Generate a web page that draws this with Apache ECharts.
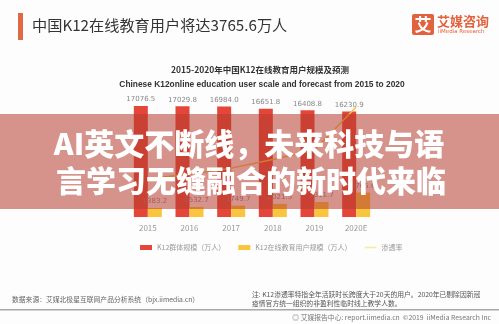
<!DOCTYPE html>
<html>
<head>
<meta charset="utf-8">
<script src="https://cdn.jsdelivr.net/npm/echarts@6/dist/echarts.min.js"></script>
<style>
html,body{margin:0;padding:0;background:#fdfdfd;}
#c{width:499px;height:324px;}
</style>
</head>
<body>
<div id="c"></div>
<script>
const years = ['2015','2016','2017','2018','2019','2020E'];
const k12Total = [17076.5, 17029.8, 16984.0, 16651.8, 16408.8, 16230.9];
const k12Online = [1383.2, 1532.7, 1749.7, 2021.5, 2311.7, 3765.6];
const penetration = [8.1, 9.0, 10.3, 12.1, 14.1, 23.2];
const seriesNames = ['K12群体规模（万人）', 'K12在线教育用户规模（万人）', '渗透率'];

const chart = echarts.init(document.getElementById('c'), null, {renderer:'canvas'});
const cjk = '"Noto Sans CJK SC", "Noto Sans", sans-serif';

chart.setOption({
  backgroundColor: '#fdfdfd',
  animation: false,
  textStyle: {fontFamily: cjk},
  grid: {left: 127, right: 122, top: 87, bottom: 107},
  xAxis: {
    type: 'category', data: years,
    axisLine: {show: false}, axisTick: {show: false},
    axisLabel: {color: '#999', fontSize: 8, margin: 7, fontFamily: cjk}
  },
  yAxis: [
    {type: 'value', min: 0, max: 20000, show: false, splitLine: {show: false}},
    {type: 'value', min: 0, max: 27.4, show: false, splitLine: {show: false}}
  ],
  legend: {
    left: 135, top: 239, itemWidth: 12, itemHeight: 5, itemGap: 13,
    textStyle: {color: '#999', fontSize: 7, fontFamily: cjk},
    data: [
      {name: seriesNames[0], icon: 'rect'},
      {name: seriesNames[1], icon: 'rect'},
      {name: seriesNames[2], icon: 'path://M0,0L12,0L12,1.5L0,1.5Z', itemStyle: {color: '#f3ee9a'}}
    ]
  },
  series: [
    {
      name: seriesNames[0], type: 'bar', data: k12Total, barWidth: 14, barGap: '0%',
      itemStyle: {color: '#e4473a'},
      label: {show: true, position: 'top', distance: 3, color: '#888', fontSize: 7, fontFamily: 'DejaVu Sans', formatter: p => p.value.toFixed(1)}
    },
    {
      name: seriesNames[1], type: 'bar', data: k12Online, barWidth: 14,
      itemStyle: {color: '#f9c53e'},
      label: {show: true, position: 'top', distance: 3, color: '#888', fontSize: 7, fontFamily: 'DejaVu Sans', formatter: p => p.value.toFixed(1)}
    },
    {
      name: seriesNames[2], type: 'line', yAxisIndex: 1, data: penetration,
      symbol: 'none', lineStyle: {color: '#f4c542', width: 1.5}, itemStyle: {color: '#f4c542'},
      z: 5,
      label: {show: true, position: 'right', distance: 3, color: '#888', fontSize: 7, fontFamily: 'DejaVu Sans', formatter: p => p.value.toFixed(1) + '%'}
    }
  ],
  graphic: [
    {type: 'rect', shape: {x: 18, y: 13, width: 5, height: 27}, style: {fill: '#e06a45'}},
    {type: 'text', x: 32, y: 25, style: {text: '中国K12在线教育用户将达3765.6万人', fill: '#333', font: '15.2px "Noto Sans CJK SC"', verticalAlign: 'middle'}},
    {type: 'rect', shape: {x: 412, y: 14, width: 22, height: 21, r: 2}, style: {fill: '#e2623d'}},
    {type: 'text', x: 423, y: 24.5, style: {text: '艾', fill: '#fff', font: 'bold 17px "Noto Sans CJK SC"', align: 'center', verticalAlign: 'middle'}},
    {type: 'text', x: 437, y: 21, style: {text: '艾媒咨询', fill: '#e2623d', font: 'bold 13px "Noto Sans CJK SC"', verticalAlign: 'middle'}},
    {type: 'text', x: 438, y: 32, style: {text: 'iiMedia Research', fill: '#e2623d', font: '5.5px "DejaVu Sans"', verticalAlign: 'middle'}},
    {type: 'text', x: 260, y: 70, style: {text: '2015-2020年中国K12在线教育用户规模及预测', fill: '#333', font: 'bold 8.5px "Noto Sans CJK SC"', align: 'center', verticalAlign: 'middle'}},
    {type: 'text', x: 262, y: 85, style: {text: 'Chinese K12online education user scale and forecast from 2015 to 2020', fill: '#333', font: 'bold 8.4px "Liberation Sans"', align: 'center', verticalAlign: 'middle'}},
    {type: 'rect', z: 100, shape: {x: 0, y: 114, width: 499, height: 95}, style: {fill: 'rgba(180,60,45,0.55)'}},
    {type: 'text', z: 101, x: 249, y: 144, style: {text: 'AI英文不断线，未来科技与语', fill: '#fff', font: '900 30px "Noto Sans CJK SC"', align: 'center', verticalAlign: 'middle', shadowColor: 'rgba(0,0,0,0.25)', shadowBlur: 2}},
    {type: 'text', z: 101, x: 251, y: 181, style: {text: '言学习无缝融合的新时代来临', fill: '#fff', font: '900 30px "Noto Sans CJK SC"', align: 'center', verticalAlign: 'middle', shadowColor: 'rgba(0,0,0,0.25)', shadowBlur: 2}},
    {type: 'text', x: 12, y: 299, style: {text: '数据来源：艾媒北极星互联网产品分析系统（bjx.iimedia.cn）', fill: '#666', font: '6.8px "Noto Sans CJK SC"', verticalAlign: 'middle'}},
    {type: 'text', x: 252, y: 290, style: {text: '注: K12渗透率特指全年活跃时长跨度大于20天的用户。2020年已剔除因新冠\n疫情官方统一组织的非盈利性临时线上教学人数。', fill: '#555', font: '6.8px "Noto Sans CJK SC"', lineHeight: 9}},
    {type: 'rect', shape: {x: 0, y: 309, width: 499, height: 1.5}, style: {fill: '#a8a8a8'}},
    {type: 'text', x: 491, y: 317, style: {text: '◎ 艾媒报告中心: report.iimedia.cn  ©2019  iiMedia Research Inc', fill: '#777', font: '6.8px "Noto Sans CJK SC"', align: 'right', verticalAlign: 'middle'}}
  ]
});
</script>
</body>
</html>
